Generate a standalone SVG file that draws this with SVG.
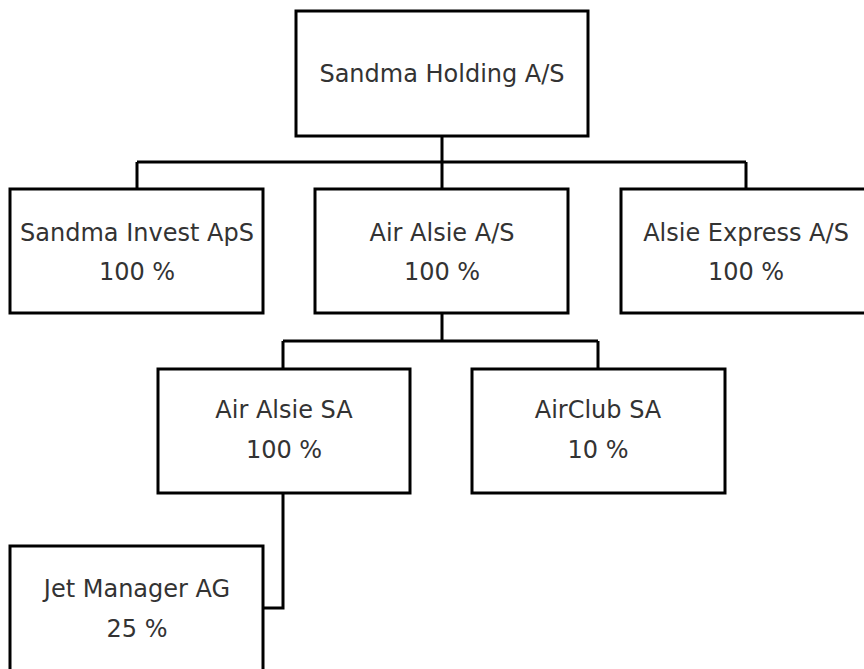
<svg xmlns="http://www.w3.org/2000/svg" width="864" height="669" viewBox="0 0 864 669">
<style>
.box{fill:#fff;stroke:#000;stroke-width:3}
.conn{fill:none;stroke:#000;stroke-width:3}
text{font-family:"DejaVu Sans","Liberation Sans",sans-serif;font-size:24px;fill:#333;text-anchor:middle}
</style>
<rect width="864" height="669" fill="#fff"/>
<g id="connectors">
<path class="conn" d="M442 136V162M137 162H746M137 162V189M442 162V189M746 162V189"/>
<path class="conn" d="M442 313V341M283 341H598M283 341V369M598 341V369"/>
<path class="conn" d="M283 493V608H263"/>
</g>
<g id="sandma-holding">
<rect class="box" x="296" y="11" width="292" height="125"/>
<text x="442" y="82">Sandma Holding A/S</text>
</g>
<g id="sandma-invest">
<rect class="box" x="10" y="189" width="253" height="124"/>
<text x="137" y="241">Sandma Invest ApS</text>
<text x="137" y="280">100 %</text>
</g>
<g id="air-alsie-as">
<rect class="box" x="315" y="189" width="253" height="124"/>
<text x="442" y="241">Air Alsie A/S</text>
<text x="442" y="280">100 %</text>
</g>
<g id="alsie-express">
<rect class="box" x="621" y="189" width="252" height="124"/>
<text x="746" y="241">Alsie Express A/S</text>
<text x="746" y="280">100 %</text>
</g>
<g id="air-alsie-sa">
<rect class="box" x="158" y="369" width="252" height="124"/>
<text x="284" y="418">Air Alsie SA</text>
<text x="284" y="458">100 %</text>
</g>
<g id="airclub-sa">
<rect class="box" x="472" y="369" width="253" height="124"/>
<text x="598" y="418">AirClub SA</text>
<text x="598" y="458">10 %</text>
</g>
<g id="jet-manager">
<rect class="box" x="10" y="546" width="253" height="140"/>
<text x="137" y="597">Jet Manager AG</text>
<text x="137" y="637">25 %</text>
</g>
</svg>
